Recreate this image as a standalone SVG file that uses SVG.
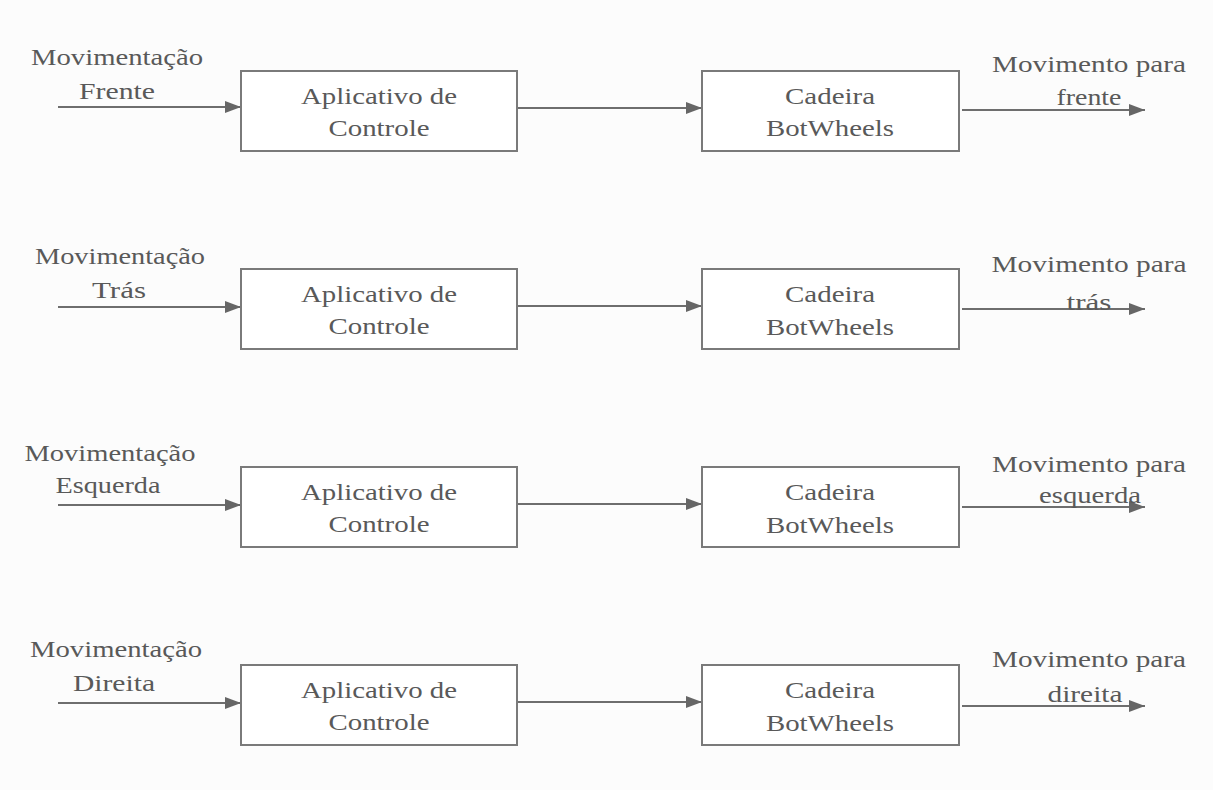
<svg xmlns="http://www.w3.org/2000/svg" width="1213" height="790" viewBox="0 0 1213 790">
<style>
  .t { font-family: 'Liberation Serif', 'Times New Roman', 'DejaVu Serif', serif; font-size: 24px; fill: #595959; text-anchor: middle; }
  .box { fill: #ffffff; stroke: #7a7a7a; stroke-width: 2; }
  .conn { stroke: #6e6e6e; stroke-width: 2; fill: none; marker-end: url(#arrow); }
</style>
<defs>
  <marker id="arrow" viewBox="0 0 16 12" refX="16" refY="6" markerWidth="16" markerHeight="12" markerUnits="userSpaceOnUse" orient="auto">
    <path d="M0,0 L16,6 L0,12 Z" fill="#666666"/>
  </marker>
</defs>
<rect width="1213" height="790" fill="#fcfcfc"/>

<g id="connectors">
  <line class="conn" x1="58" y1="107" x2="241" y2="107"/>
  <line class="conn" x1="517" y1="108" x2="702" y2="108"/>
  <line class="conn" x1="962" y1="110" x2="1145" y2="110"/>

  <line class="conn" x1="58" y1="307" x2="241" y2="307"/>
  <line class="conn" x1="517" y1="306" x2="702" y2="306"/>
  <line class="conn" x1="962" y1="309" x2="1145" y2="309"/>

  <line class="conn" x1="58" y1="505" x2="241" y2="505"/>
  <line class="conn" x1="517" y1="504" x2="702" y2="504"/>
  <line class="conn" x1="962" y1="507" x2="1145" y2="507"/>

  <line class="conn" x1="58" y1="703" x2="241" y2="703"/>
  <line class="conn" x1="517" y1="702" x2="702" y2="702"/>
  <line class="conn" x1="962" y1="706" x2="1145" y2="706"/>
</g>

<g font-family="Liberation Serif, Times New Roman, serif">
<!-- Row 1 -->
<g id="in-frente">
  <text class="t" x="117" y="65" textLength="172" lengthAdjust="spacingAndGlyphs">Movimentação</text>
  <text class="t" x="117" y="99" textLength="76" lengthAdjust="spacingAndGlyphs">Frente</text>
</g>
<g id="app-1">
  <rect class="box" x="241" y="71" width="276" height="80"/>
  <text class="t" x="379" y="104" textLength="156" lengthAdjust="spacingAndGlyphs">Aplicativo de</text>
  <text class="t" x="379" y="136" textLength="101" lengthAdjust="spacingAndGlyphs">Controle</text>
</g>
<g id="cadeira-1">
  <rect class="box" x="702" y="71" width="257" height="80"/>
  <text class="t" x="830" y="104" textLength="90" lengthAdjust="spacingAndGlyphs">Cadeira</text>
  <text class="t" x="830" y="136" textLength="128" lengthAdjust="spacingAndGlyphs">BotWheels</text>
</g>
<g id="out-frente">
  <text class="t" x="1089" y="72" textLength="194" lengthAdjust="spacingAndGlyphs">Movimento para</text>
  <text class="t" x="1089" y="105" textLength="65" lengthAdjust="spacingAndGlyphs">frente</text>
</g>

<!-- Row 2 -->
<g id="in-tras">
  <text class="t" x="120" y="264" textLength="170" lengthAdjust="spacingAndGlyphs">Movimentação</text>
  <text class="t" x="119" y="298" textLength="54" lengthAdjust="spacingAndGlyphs">Trás</text>
</g>
<g id="app-2">
  <rect class="box" x="241" y="269" width="276" height="80"/>
  <text class="t" x="379" y="302" textLength="156" lengthAdjust="spacingAndGlyphs">Aplicativo de</text>
  <text class="t" x="379" y="334" textLength="101" lengthAdjust="spacingAndGlyphs">Controle</text>
</g>
<g id="cadeira-2">
  <rect class="box" x="702" y="269" width="257" height="80"/>
  <text class="t" x="830" y="302" textLength="90" lengthAdjust="spacingAndGlyphs">Cadeira</text>
  <text class="t" x="830" y="335" textLength="128" lengthAdjust="spacingAndGlyphs">BotWheels</text>
</g>
<g id="out-tras">
  <text class="t" x="1089" y="272" textLength="195" lengthAdjust="spacingAndGlyphs">Movimento para</text>
  <text class="t" x="1089" y="310" textLength="45" lengthAdjust="spacingAndGlyphs">trás</text>
</g>

<!-- Row 3 -->
<g id="in-esquerda">
  <text class="t" x="110" y="461" textLength="171" lengthAdjust="spacingAndGlyphs">Movimentação</text>
  <text class="t" x="108" y="493" textLength="105" lengthAdjust="spacingAndGlyphs">Esquerda</text>
</g>
<g id="app-3">
  <rect class="box" x="241" y="467" width="276" height="80"/>
  <text class="t" x="379" y="500" textLength="156" lengthAdjust="spacingAndGlyphs">Aplicativo de</text>
  <text class="t" x="379" y="532" textLength="101" lengthAdjust="spacingAndGlyphs">Controle</text>
</g>
<g id="cadeira-3">
  <rect class="box" x="702" y="467" width="257" height="80"/>
  <text class="t" x="830" y="500" textLength="90" lengthAdjust="spacingAndGlyphs">Cadeira</text>
  <text class="t" x="830" y="533" textLength="128" lengthAdjust="spacingAndGlyphs">BotWheels</text>
</g>
<g id="out-esquerda">
  <text class="t" x="1089" y="472" textLength="194" lengthAdjust="spacingAndGlyphs">Movimento para</text>
  <text class="t" x="1090" y="503" textLength="102" lengthAdjust="spacingAndGlyphs">esquerda</text>
</g>

<!-- Row 4 -->
<g id="in-direita">
  <text class="t" x="116" y="657" textLength="172" lengthAdjust="spacingAndGlyphs">Movimentação</text>
  <text class="t" x="114" y="691" textLength="82" lengthAdjust="spacingAndGlyphs">Direita</text>
</g>
<g id="app-4">
  <rect class="box" x="241" y="665" width="276" height="80"/>
  <text class="t" x="379" y="698" textLength="156" lengthAdjust="spacingAndGlyphs">Aplicativo de</text>
  <text class="t" x="379" y="730" textLength="101" lengthAdjust="spacingAndGlyphs">Controle</text>
</g>
<g id="cadeira-4">
  <rect class="box" x="702" y="665" width="257" height="80"/>
  <text class="t" x="830" y="698" textLength="90" lengthAdjust="spacingAndGlyphs">Cadeira</text>
  <text class="t" x="830" y="731" textLength="128" lengthAdjust="spacingAndGlyphs">BotWheels</text>
</g>
<g id="out-direita">
  <text class="t" x="1089" y="667" textLength="194" lengthAdjust="spacingAndGlyphs">Movimento para</text>
  <text class="t" x="1085" y="702" textLength="75" lengthAdjust="spacingAndGlyphs">direita</text>
</g>
</g>
</svg>
